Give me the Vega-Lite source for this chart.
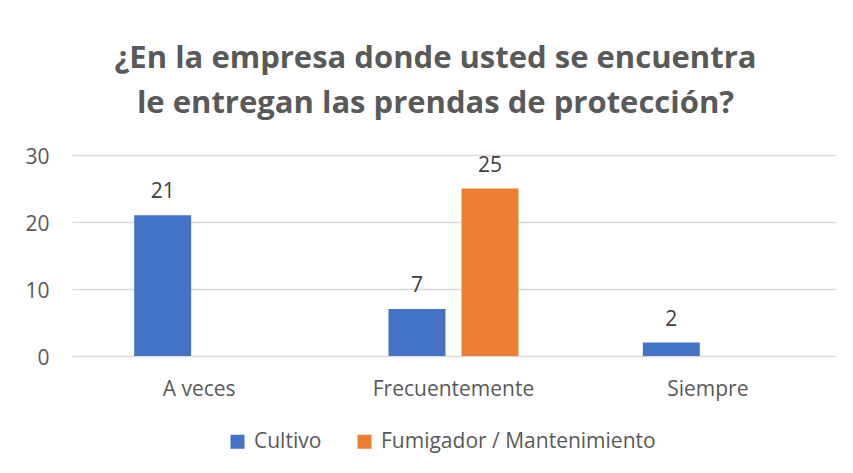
{
  "$schema": "https://vega.github.io/schema/vega-lite/v6.json",
  "width": 763,
  "height": 201,
  "autosize": {"type": "none"},
  "padding": {"left": 72, "top": 155, "right": 18, "bottom": 117},
  "background": "white",
  "title": {
    "text": ["¿En la empresa donde usted se encuentra", "le entregan las prendas de protección?"],
    "font": "Open Sans",
    "fontSize": 31,
    "fontWeight": "bold",
    "color": "#595959",
    "lineHeight": 45,
    "anchor": "middle",
    "dx": -18,
    "offset": 26
  },
  "data": {
    "values": [
      {"respuesta": "A veces", "grupo": "Cultivo", "valor": 21},
      {"respuesta": "Frecuentemente", "grupo": "Cultivo", "valor": 7},
      {"respuesta": "Frecuentemente", "grupo": "Fumigador / Mantenimiento", "valor": 25},
      {"respuesta": "Siempre", "grupo": "Cultivo", "valor": 2}
    ]
  },
  "encoding": {
    "x": {
      "field": "respuesta",
      "type": "nominal",
      "sort": ["A veces", "Frecuentemente", "Siempre"],
      "scale": {"paddingInner": 0.489, "paddingOuter": 0.2445},
      "axis": {
        "title": null,
        "labelAngle": 0,
        "labelFont": "Open Sans",
        "labelFontSize": 21,
        "labelColor": "#595959",
        "labelPadding": 22,
        "ticks": false,
        "domain": false,
        "grid": false
      }
    },
    "xOffset": {
      "field": "grupo",
      "type": "nominal",
      "sort": ["Cultivo", "Fumigador / Mantenimiento"],
      "scale": {"paddingInner": 0.22, "paddingOuter": 0}
    },
    "y": {
      "field": "valor",
      "type": "quantitative",
      "scale": {"domain": [0, 30], "nice": false},
      "axis": {
        "title": null,
        "values": [0, 10, 20, 30],
        "labelFont": "Open Sans",
        "labelFontSize": 21,
        "labelColor": "#595959",
        "labelPadding": 23,
        "labelOffset": 2,
        "ticks": false,
        "domain": false,
        "gridColor": "#d9d9d9",
        "gridWidth": 1.3
      }
    }
  },
  "layer": [
    {
      "mark": {"type": "bar"},
      "encoding": {
        "color": {
          "field": "grupo",
          "type": "nominal",
          "sort": ["Cultivo", "Fumigador / Mantenimiento"],
          "scale": {"domain": ["Cultivo", "Fumigador / Mantenimiento"], "range": ["#4472C4", "#ED7D31"]},
          "legend": {
            "title": null,
            "orient": "none",
            "direction": "horizontal",
            "legendX": 155,
            "legendY": 276,
            "symbolType": "square",
            "symbolSize": 196,
            "symbolStrokeWidth": 0,
            "symbolOpacity": 1,
            "labelFont": "Open Sans",
            "labelFontSize": 21,
            "labelColor": "#595959",
            "labelOffset": 6,
            "labelLimit": 0,
            "columnPadding": 32
          }
        }
      }
    },
    {
      "mark": {"type": "text", "font": "Open Sans", "fontSize": 21, "color": "#404040", "baseline": "alphabetic", "dy": -17},
      "encoding": {
        "text": {"field": "valor", "type": "quantitative"}
      }
    }
  ],
  "config": {
    "view": {"stroke": null}
  }
}
